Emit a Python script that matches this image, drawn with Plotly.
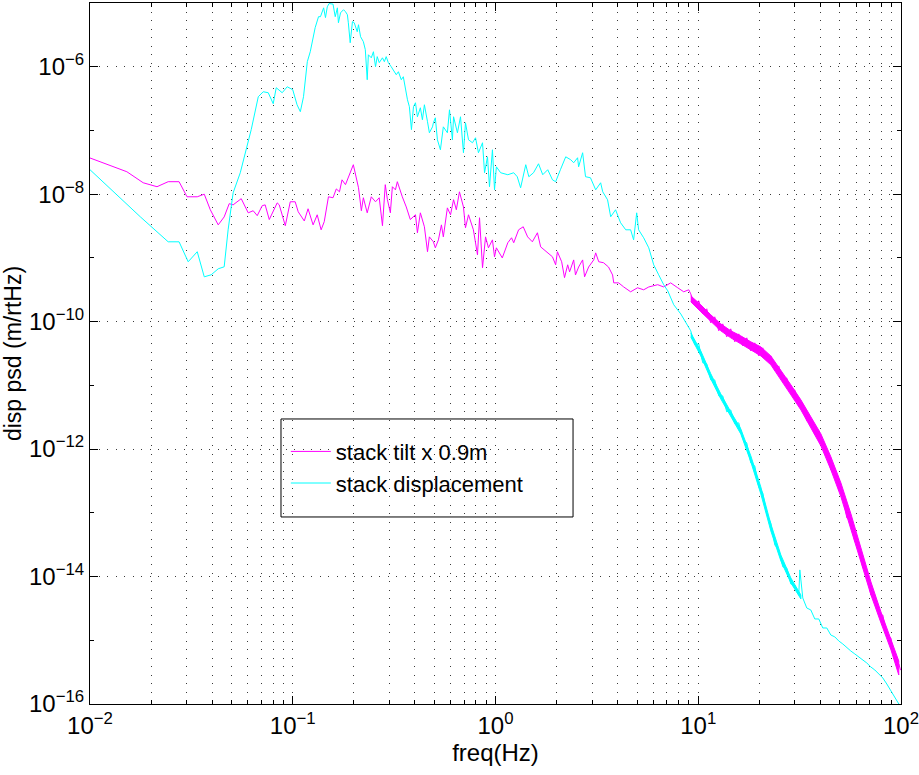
import plotly.graph_objects as go

# ---------------- data ----------------
tilt_freq_hz = [
    0.01, 0.0152, 0.0183, 0.0214, 0.0243, 0.0275, 0.0301, 0.0338, 0.0366, 0.0392,
    0.0429, 0.0459, 0.0486, 0.0508, 0.0557, 0.0603, 0.0638, 0.0668, 0.0707, 0.0731,
    0.0766, 0.0838, 0.0858, 0.0919, 0.0972, 0.1028, 0.1064, 0.114, 0.119, 0.126,
    0.132, 0.138, 0.143, 0.150, 0.158, 0.164, 0.170, 0.175, 0.182, 0.192,
    0.199, 0.211, 0.218, 0.223, 0.233, 0.244, 0.256, 0.267, 0.277, 0.286,
    0.293, 0.303, 0.310, 0.321, 0.328, 0.347, 0.363, 0.380, 0.403, 0.412,
    0.426, 0.446, 0.462, 0.472, 0.494, 0.505, 0.523, 0.541, 0.553, 0.579,
    0.600, 0.621, 0.641, 0.664, 0.695, 0.711, 0.736, 0.778, 0.815, 0.834,
    0.863, 0.893, 0.923, 0.966, 0.989, 1.01, 1.08, 1.15, 1.20, 1.23,
    1.30, 1.37, 1.44, 1.52, 1.61, 1.67, 1.79, 1.91, 1.98, 2.02,
    2.12, 2.19, 2.27, 2.32, 2.43, 2.48, 2.57, 2.69, 2.75, 2.88,
    3.05, 3.12, 3.23, 3.41, 3.61, 3.78, 3.83, 4.05, 4.29, 4.64,
    5.02, 5.38, 5.70, 6.31, 6.76, 7.31, 7.92, 8.48, 8.98,
    9.18, 9.61, 10.06, 10.52, 11.01, 11.52, 12.06, 12.62, 13.21, 13.82,
    14.46, 15.14, 15.84, 16.58, 17.35, 18.15, 19.0, 19.88, 20.81, 21.77,
    22.79, 23.85, 24.95, 26.11, 27.33, 28.6, 29.93, 31.32, 32.78, 34.3,
    35.9, 37.57, 39.31, 41.14, 43.05, 45.06, 47.15, 49.34, 51.64, 54.04,
    56.55, 59.18, 61.93, 64.81, 67.82, 70.98, 74.28, 77.73, 81.35, 85.13,
    89.09, 93.23, 97.57, 99.5,
]
tilt_psd = [
    3.7e-8, 2.25e-8, 1.51e-8, 1.31e-8, 1.57e-8, 1.57e-8, 9.1e-9, 9.1e-9, 1.0e-8, 5.7e-9,
    3.3e-9, 4.4e-9, 7.1e-9, 6.8e-9, 8.5e-9, 5.1e-9, 5.5e-9, 4.6e-9, 6.6e-9, 6.8e-9,
    4.0e-9, 7.3e-9, 6.8e-9, 3.2e-9, 7.6e-9, 7.6e-9, 5.3e-9, 3.8e-9, 5.9e-9, 3.3e-9,
    4.75e-9, 2.76e-9, 3.7e-9, 9.1e-9, 8.8e-9, 1.21e-8, 1.09e-8, 1.68e-8, 1.41e-8, 2.25e-8,
    2.9e-8, 1.26e-8, 5.5e-9, 8.8e-9, 5.1e-9, 9.1e-9, 7.6e-9, 8.8e-9, 3.2e-9, 1.41e-8,
    8.2e-9, 5.1e-9, 1.31e-8, 1.17e-8, 1.57e-8, 9.1e-9, 6.3e-9, 4.0e-9, 4.75e-9, 2.48e-9,
    5.1e-9, 3.08e-9, 1.25e-9, 2.14e-9, 1.79e-9, 1.44e-9, 1.92e-9, 3.3e-9, 2.14e-9, 6.1e-9,
    4.75e-9, 8.2e-9, 5.7e-9, 1.09e-8, 6.3e-9, 2.97e-9, 4.75e-9, 2.76e-9, 1.12e-9, 4.27e-9,
    7.0e-10, 2.14e-9, 1.44e-9, 1.92e-9, 1.04e-9, 1.44e-9, 1.0e-9, 1.73e-9, 2.07e-9, 1.73e-9,
    2.76e-9, 3.08e-9, 2.14e-9, 1.79e-9, 2.48e-9, 1.49e-9, 1.25e-9, 1.04e-9, 7.8e-10, 1.25e-9,
    8.7e-10, 4.9e-10, 7.8e-10, 6.05e-10, 9.3e-10, 5.4e-10, 7.2e-10, 9.3e-10, 5.05e-10, 7.2e-10,
    9.3e-10, 1.2e-9, 8.7e-10, 8.4e-10, 7.2e-10, 5.4e-10, 4.06e-10, 4.06e-10, 3.5e-10, 2.94e-10,
    3.4e-10, 3.16e-10, 3.5e-10, 3.8e-10, 3.5e-10, 4.06e-10, 3.4e-10, 2.94e-10, 3.16e-10,
    2.73e-10, 1.84e-10, 2.12e-10, 1.32e-10, 1.59e-10, 9.57e-11, 1.19e-10, 7.18e-11, 9.23e-11, 5.77e-11,
    7.71e-11, 4.82e-11, 6.43e-11, 4.17e-11, 5.57e-11, 3.48e-11, 4.65e-11, 2.9e-11, 3.88e-11, 2.43e-11,
    2.9e-11, 1.69e-11, 2.02e-11, 1.14e-11, 1.31e-11, 7.36e-12, 8.49e-12, 4.76e-12, 5.13e-12, 2.77e-12,
    2.98e-12, 1.67e-12, 1.93e-12, 1.04e-12, 9.7e-13, 4.71e-13, 4.71e-13, 2.29e-13, 1.91e-13, 8.32e-14,
    8.32e-14, 3.49e-14, 3.13e-14, 1.36e-14, 1.22e-14, 5.14e-15, 5.14e-15, 2.49e-15, 2.49e-15, 1.13e-15,
    1.09e-15, 4.73e-16, 4.25e-16, 3.4e-16,
]

# upper / lower edges of the dense noise band of the tilt curve above ~9 Hz
tilt_band_freq_hz = [9.18, 10.29, 11.53, 12.91, 14.47, 16.21, 18.17, 20.35, 22.8, 25.55,
                     28.63, 32.08, 35.94, 40.27, 45.11, 50.55, 56.63, 63.45, 71.09, 79.65,
                     89.25, 97.5]
tilt_band_upper = [2.54e-10, 1.84e-10, 1.28e-10, 9.23e-11, 7.18e-11, 5.98e-11, 4.82e-11, 4.02e-11, 2.9e-11, 1.75e-11,
                   1.02e-11, 5.92e-12, 3.2e-12, 1.73e-12, 7.55e-13, 2.94e-13, 9.62e-14, 2.81e-14, 8.22e-15, 2.78e-15,
                   1.05e-15, 4.73e-16]
tilt_band_lower = [2.05e-10, 1.43e-10, 1.03e-10, 7.18e-11, 5.57e-11, 4.48e-11, 3.61e-11, 2.9e-11, 2.1e-11, 1.22e-11,
                   7.1e-12, 4.12e-12, 2.15e-12, 1.12e-12, 4.71e-13, 1.78e-13, 5.58e-14, 1.69e-14, 5.14e-15, 1.87e-15,
                   7.05e-16, 2.85e-16]

disp_freq_hz = [
    0.01, 0.0177, 0.0243, 0.0275, 0.0305, 0.0338, 0.0366, 0.0396, 0.0429, 0.0459,
    0.048, 0.0508, 0.0551, 0.0596, 0.0624, 0.0676, 0.0715, 0.0757, 0.0801, 0.0829,
    0.0887, 0.0939, 0.1, 0.105, 0.109, 0.113, 0.118, 0.122, 0.129, 0.134,
    0.137, 0.142, 0.145, 0.148, 0.151, 0.158, 0.162, 0.166, 0.168, 0.172,
    0.178, 0.182, 0.186, 0.188, 0.192, 0.197, 0.201, 0.208, 0.211, 0.216,
    0.223, 0.228, 0.233, 0.236, 0.244, 0.250, 0.256, 0.261, 0.267, 0.277,
    0.283, 0.289, 0.296, 0.306, 0.313, 0.324, 0.332, 0.343, 0.351, 0.359,
    0.368, 0.376, 0.385, 0.394, 0.403, 0.412, 0.426, 0.436, 0.446, 0.462,
    0.472, 0.489, 0.494, 0.505, 0.517, 0.535, 0.553, 0.579, 0.593, 0.613,
    0.621, 0.649, 0.672, 0.695, 0.711, 0.736, 0.770, 0.797, 0.824, 0.863,
    0.883, 0.913, 0.934, 0.966, 0.989, 1.01, 1.06, 1.15, 1.23, 1.28,
    1.33, 1.41, 1.46, 1.54, 1.63, 1.71, 1.81, 1.91, 1.98, 2.09,
    2.22, 2.35, 2.43, 2.54, 2.57, 2.69, 2.78, 2.94, 3.12, 3.30,
    3.38, 3.57, 3.70, 3.91, 4.14, 4.39, 4.64, 4.80, 4.97, 5.08,
    5.38, 5.70, 6.03, 6.38, 6.76, 7.07, 7.57, 8.2, 8.67,
    9.18, 9.61, 10.06, 10.52, 11.01, 11.52, 12.06, 12.62, 13.21, 13.82,
    14.46, 15.14, 15.84, 16.58, 17.35, 18.15, 19.0, 19.88, 20.81, 21.77,
    22.79, 23.85, 24.95, 26.11, 27.33, 28.6, 29.93, 31.32, 31.7, 32.78, 34.3,
    35.9, 37.57, 39.31, 41.14, 43.05, 45.06, 47.15, 49.34, 51.64, 54.04,
    56.55, 59.18, 61.93, 64.81, 67.82, 70.98, 74.28, 77.73, 81.35, 85.13,
    89.09, 93.23, 97.57, 100.0,
]
disp_psd = [
    2.42e-8, 4.42e-9, 1.79e-9, 1.79e-9, 8.7e-10, 1.25e-9, 5.05e-10, 5.43e-10, 6.75e-10, 7.25e-10,
    2.76e-9, 1.05e-8, 2.17e-8, 5.55e-8, 1.03e-7, 3.38e-7, 4.05e-7, 3.91e-7, 2.63e-7, 4.68e-7,
    3.91e-7, 4.85e-7, 4.35e-7, 2.53e-7, 1.97e-7, 3.38e-7, 1.2e-6, 1.72e-6, 4.1e-6, 6.1e-6,
    6.1e-6, 8.4e-6, 5.9e-6, 8.7e-6, 9.8e-6, 9.6e-6, 6.1e-6, 8.4e-6, 4.9e-6, 7.0e-6,
    7.85e-6, 7.3e-6, 6.55e-6, 4.9e-6, 2.38e-6, 5.1e-6, 4.9e-6, 3.54e-6, 4.56e-6, 2.96e-6,
    2.47e-6, 1.85e-6, 6.25e-7, 1.54e-6, 1.38e-6, 1.72e-6, 1.0e-6, 1.44e-6, 1.16e-6, 1.38e-6,
    1.2e-6, 1.44e-6, 1.16e-6, 1.0e-6, 8.97e-7, 7.49e-7, 8.35e-7, 6.25e-7, 6.97e-7, 4.35e-7,
    3.03e-7, 2.36e-7, 1.03e-7, 2.36e-7, 2.72e-7, 1.64e-7, 2.27e-7, 1.47e-7, 2.53e-7, 1.37e-7,
    9.2e-8, 1.14e-7, 1.32e-7, 1.58e-7, 7.14e-8, 4.98e-8, 1.14e-7, 9.2e-8, 2.11e-7, 7.14e-8,
    1.64e-7, 9.2e-8, 1.64e-7, 4.47e-8, 1.32e-7, 7.14e-8, 6.41e-8, 7.68e-8, 4.47e-8, 6.41e-8,
    2.17e-8, 3.86e-8, 1.31e-8, 4.98e-8, 1.17e-8, 2.69e-8, 2.17e-8, 2.02e-8, 2.17e-8, 1.88e-8,
    1.26e-8, 2.9e-8, 1.88e-8, 2.17e-8, 3.0e-8, 2.02e-8, 2.42e-8, 1.68e-8, 1.57e-8, 2.42e-8,
    3.86e-8, 3.47e-8, 3.11e-8, 3.73e-8, 2.69e-8, 4.47e-8, 1.88e-8, 1.81e-8, 1.17e-8, 1.51e-8,
    1.09e-8, 8.17e-9, 4.42e-9, 5.69e-9, 3.56e-9, 2.76e-9, 2.76e-9, 1.92e-9, 5.1e-9, 2.76e-9,
    2.07e-9, 1.44e-9, 7.79e-10, 5.43e-10, 3.78e-10, 3.05e-10, 1.84e-10, 1.32e-10, 9.93e-11,
    7.18e-11, 4.32e-11, 4.48e-11, 2.26e-11, 2.18e-11, 1.22e-11, 1.22e-11, 6.84e-12, 6.84e-12, 3.84e-12,
    4.12e-12, 2.49e-12, 2.58e-12, 1.45e-12, 1.25e-12, 6.07e-13, 5.45e-13, 2.55e-13, 2.05e-13, 9.62e-14,
    6.93e-14, 3.13e-14, 2.62e-14, 1.42e-14, 1.36e-14, 7.66e-15, 7.38e-15, 5.14e-15, 1.27e-14, 4.61e-15, 3.21e-15,
    2.99e-15, 2.16e-15, 2.16e-15, 1.56e-15, 1.56e-15, 1.21e-15, 1.13e-15, 9.75e-16, 8.75e-16, 7.57e-16,
    6.79e-16, 6.1e-16, 5.47e-16, 4.91e-16, 4.4e-16, 3.81e-16, 3.42e-16, 2.96e-16, 2.56e-16, 2.06e-16,
    1.6e-16, 1.24e-16, 1.0e-16, 9.5e-17,
]

# upper / lower edges of the noise band of the displacement curve, ~9-32 Hz
disp_band_freq_hz = [9.18, 10.29, 11.53, 12.91, 14.47, 16.21, 18.17, 20.35, 22.8, 25.55,
                     28.63, 32.08]
disp_band_upper = [6.67e-11, 3.48e-11, 1.52e-11, 7.36e-12, 3.84e-12, 2.08e-12, 7.82e-13, 2.55e-13, 6.7e-14, 2.18e-14,
                   9.5e-15, 5.14e-15]
disp_band_lower = [5.77e-11, 2.9e-11, 1.26e-11, 6.14e-12, 3.2e-12, 1.73e-12, 6.3e-13, 1.98e-13, 5.2e-14, 1.76e-14,
                   7.94e-15, 4.45e-15]

series_names = ["stack tilt x 0.9m", "stack displacement"]
series_colors = ["#ff00ff", "#00ffff"]

x_major = [1e-2, 1e-1, 1e0, 1e1, 1e2]
x_major_text = ["10<sup>−2</sup>", "10<sup>−1</sup>", "10<sup>0</sup>", "10<sup>1</sup>", "10<sup>2</sup>"]
x_minor = [m * d for d in (1e-2, 1e-1, 1e0, 1e1) for m in range(2, 10)]
y_major = [1e-16, 1e-14, 1e-12, 1e-10, 1e-8, 1e-6]
y_major_text = ["10<sup>−16</sup>", "10<sup>−14</sup>", "10<sup>−12</sup>",
                "10<sup>−10</sup>", "10<sup>−8</sup>", "10<sup>−6</sup>"]
y_minor = [1e-15, 1e-13, 1e-11, 1e-9, 1e-7, 1e-5]

FONT = "Liberation Sans, Arial, Helvetica, sans-serif"
GRID_DASH = "1px,7.5px"
GRID_COLOR = "#3a3a3a"


def band_trace(freqs, upper, lower, color):
    return go.Scatter(
        x=list(freqs) + list(freqs)[::-1],
        y=list(upper) + list(lower)[::-1],
        mode="lines", fill="toself", fillcolor=color,
        line=dict(color=color, width=1), showlegend=False, hoverinfo="skip",
    )


fig = go.Figure()
fig.add_trace(band_trace(tilt_band_freq_hz, tilt_band_upper, tilt_band_lower, series_colors[0]))
fig.add_trace(go.Scatter(x=tilt_freq_hz, y=tilt_psd, mode="lines", name=series_names[0],
                         line=dict(color=series_colors[0], width=1)))
fig.add_trace(band_trace(disp_band_freq_hz, disp_band_upper, disp_band_lower, series_colors[1]))
fig.add_trace(go.Scatter(x=disp_freq_hz, y=disp_psd, mode="lines", name=series_names[1],
                         line=dict(color=series_colors[1], width=1)))

common_axis = dict(
    showline=True, linecolor="black", linewidth=1, mirror="allticks",
    ticks="inside", ticklen=8, tickcolor="black", tickwidth=1,
    showgrid=True, gridcolor=GRID_COLOR, gridwidth=1, griddash=GRID_DASH,
    zeroline=False, tickfont=dict(family=FONT, size=24, color="black"),
    ticklabeloverflow="allow",
)

fig.update_xaxes(
    type="log", range=[-2, 2], tickmode="array", tickvals=x_major, ticktext=x_major_text,
    minor=dict(tickmode="array", tickvals=x_minor, ticks="inside", ticklen=4,
               tickcolor="black", showgrid=True, gridcolor=GRID_COLOR, griddash=GRID_DASH, gridwidth=1),
    title=dict(text="freq(Hz)", font=dict(family=FONT, size=24, color="black"), standoff=4),
    **common_axis,
)
fig.update_yaxes(
    type="log", range=[-16, -5], tickmode="array", tickvals=y_major, ticktext=y_major_text,
    minor=dict(tickmode="array", tickvals=y_minor, ticks="inside", ticklen=4,
               tickcolor="black", showgrid=False),
    title=dict(text="disp psd (m/rtHz)", font=dict(family=FONT, size=23, color="black"), standoff=2),
    **common_axis,
)

# legend frame
fig.add_shape(type="rect", xref="paper", yref="paper",
              x0=0.2355, x1=0.5956, y0=0.2668, y1=0.4066,
              line=dict(color="black", width=1), fillcolor="rgba(0,0,0,0)", layer="above")

fig.update_layout(
    width=919, height=775,
    margin=dict(l=90, r=18, t=3, b=71, autoexpand=False),
    paper_bgcolor="white", plot_bgcolor="white",
    font=dict(family=FONT, size=22, color="black"),
    showlegend=True,
    legend=dict(x=0.2415, y=0.390, xanchor="left", yanchor="top",
                bgcolor="rgba(0,0,0,0)", borderwidth=0, itemwidth=40,
                font=dict(family=FONT, size=22, color="black")),
)

fig.write_html("out.html")
